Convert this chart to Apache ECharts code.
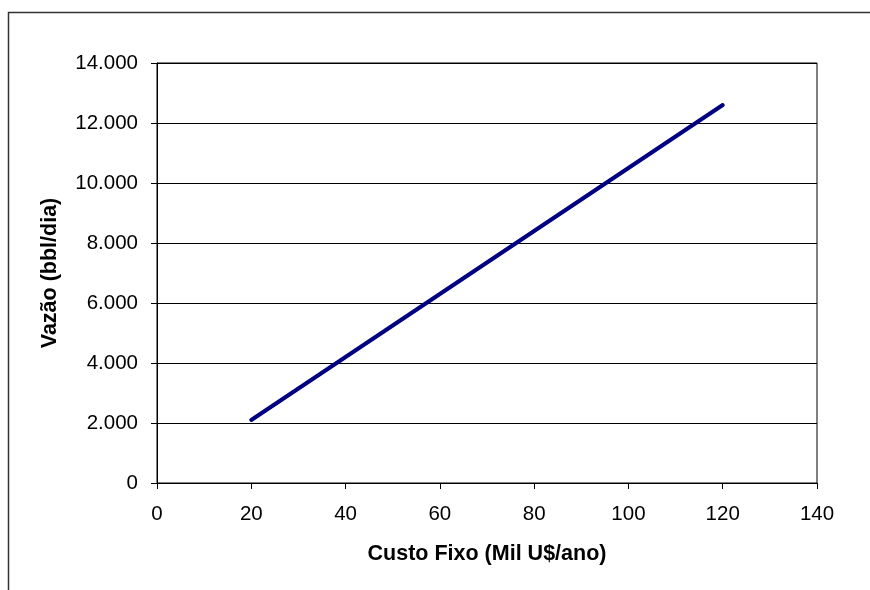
<!DOCTYPE html>
<html>
<head>
<meta charset="utf-8">
<script src="https://cdn.jsdelivr.net/npm/echarts@6/dist/echarts.min.js"></script>
<style>
  html, body { margin: 0; padding: 0; background: #fff; }
  #chart { width: 870px; height: 590px; }
</style>
</head>
<body>
<div id="chart"></div>
<script>
// Custo fixo (mil U$/ano) vs. vazão (bbl/dia)
const custoFixo = [20, 40, 60, 80, 100, 120];
const vazao = [2100, 4200, 6300, 8400, 10500, 12600];

const xTitle = 'Custo Fixo (Mil U$/ano)';
const yTitle = 'Vazão (bbl/dia)';

// Thousands separated by a dot (pt-BR style)
function fmtMilhar(v) {
  return String(Math.round(v)).replace(/\B(?=(\d{3})+(?!\d))/g, '.');
}

const chart = echarts.init(document.getElementById('chart'), null, { renderer: 'canvas' });
const font = '"Liberation Sans", Arial, sans-serif';

chart.setOption({
  animation: false,
  backgroundColor: '#fff',
  graphic: [{
    type: 'rect',
    shape: { x: 8.5, y: 12.5, width: 900, height: 700 },
    style: { fill: 'none', stroke: '#333', lineWidth: 1.5 },
    silent: true,
    z: -1
  }],
  grid: {
    left: 157, top: 63, right: 53, bottom: 107,
    show: true, borderColor: '#000', borderWidth: 1,
    containLabel: false
  },
  xAxis: {
    type: 'value',
    min: 0, max: 140, interval: 20,
    name: xTitle,
    nameLocation: 'middle',
    nameGap: 60,
    nameTextStyle: { fontFamily: font, fontSize: 21.5, fontWeight: 'bold', color: '#000' },
    axisLine: { show: true, lineStyle: { color: '#000', width: 1 } },
    axisTick: { show: true, length: 6, inside: false, lineStyle: { color: '#000' } },
    axisLabel: { fontFamily: font, fontSize: 20.5, color: '#000', margin: 21 },
    splitLine: { show: false }
  },
  yAxis: {
    type: 'value',
    min: 0, max: 14000, interval: 2000,
    name: yTitle,
    nameLocation: 'middle',
    nameGap: 96,
    nameRotate: 90,
    nameTextStyle: { fontFamily: font, fontSize: 21.5, fontWeight: 'bold', color: '#000' },
    axisLine: { show: true, lineStyle: { color: '#000', width: 1 } },
    axisTick: { show: true, length: 6, inside: false, lineStyle: { color: '#000' } },
    axisLabel: { fontFamily: font, fontSize: 20.5, color: '#000', margin: 19, formatter: fmtMilhar },
    splitLine: { show: true, lineStyle: { color: '#000', width: 1 } }
  },
  series: [{
    type: 'line',
    data: custoFixo.map((x, i) => [x, vazao[i]]),
    showSymbol: false,
    lineStyle: { color: '#000080', width: 4, cap: 'round', join: 'round' },
    itemStyle: { color: '#000080' }
  }]
});
</script>
</body>
</html>
